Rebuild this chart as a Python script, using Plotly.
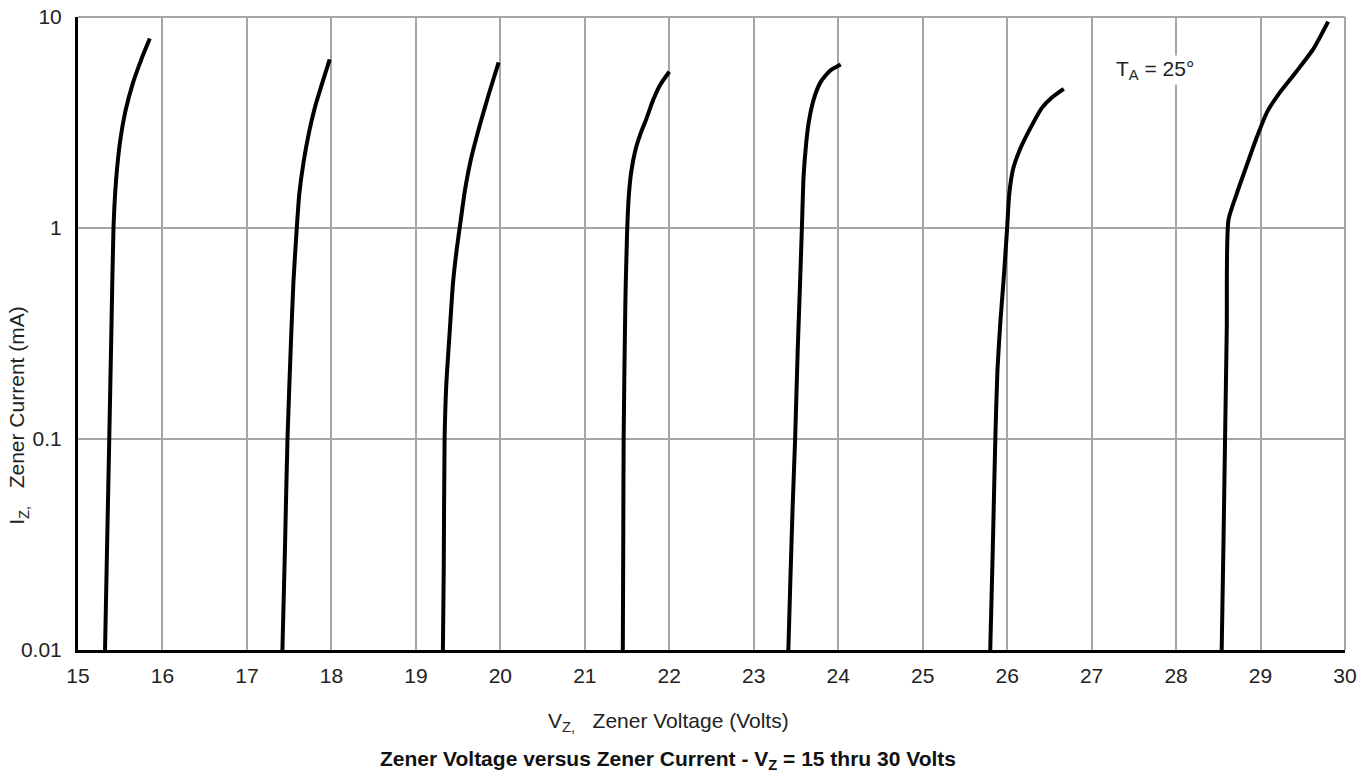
import plotly.graph_objects as go

# Zener curves (voltage in V, current in mA)
vz_15 = [15.32, 15.345, 15.37, 15.395, 15.42, 15.45, 15.50, 15.56, 15.65, 15.75, 15.85]
iz_15 = [0.01, 0.032, 0.1, 0.32, 1.0, 1.67, 2.6, 3.56, 4.86, 6.3, 7.9]

vz_18 = [17.42, 17.45, 17.48, 17.52, 17.55, 17.59, 17.62, 17.67, 17.74, 17.81, 17.88, 17.98]
iz_18 = [0.01, 0.030, 0.1, 0.28, 0.55, 1.0, 1.45, 2.05, 2.9, 3.8, 4.7, 6.3]

vz_20 = [19.32, 19.33, 19.34, 19.36, 19.40, 19.44, 19.485, 19.53, 19.58, 19.65, 19.76, 19.87, 19.98]
iz_20 = [0.01, 0.024, 0.1, 0.18, 0.32, 0.55, 0.8, 1.08, 1.5, 2.1, 3.1, 4.4, 6.1]

vz_22 = [21.45, 21.455, 21.46, 21.48, 21.50, 21.52, 21.55, 21.60, 21.66, 21.73, 21.81, 21.89, 22.00]
iz_22 = [0.01, 0.03, 0.1, 0.44, 0.93, 1.4, 1.85, 2.35, 2.8, 3.3, 4.05, 4.75, 5.5]

vz_24 = [23.41, 23.43, 23.46, 23.49, 23.52, 23.55, 23.57, 23.59, 23.62, 23.65, 23.71, 23.79, 23.90, 24.03]
iz_24 = [0.01, 0.019, 0.047, 0.1, 0.26, 0.57, 1.0, 1.75, 2.5, 3.15, 4.07, 4.9, 5.55, 5.95]

vz_26 = [25.80, 25.83, 25.86, 25.885, 25.92, 25.96, 26.00, 26.025, 26.07, 26.16, 26.28, 26.41, 26.53, 26.67]
iz_26 = [0.01, 0.030, 0.1, 0.21, 0.36, 0.58, 1.0, 1.45, 1.9, 2.4, 3.0, 3.7, 4.15, 4.56]

vz_30 = [28.54, 28.56, 28.58, 28.60, 28.62, 28.72, 28.84, 28.96, 29.08, 29.24, 29.43, 29.63, 29.80]
iz_30 = [0.01, 0.030, 0.1, 0.33, 1.09, 1.46, 2.0, 2.72, 3.56, 4.45, 5.55, 7.1, 9.5]

x_ticks = list(range(15, 31))
y_tickvals = [0.01, 0.1, 1, 10]
y_ticktext = ["0.01", "0.1", "1", "10"]

curves = [(vz_15, iz_15), (vz_18, iz_18), (vz_20, iz_20), (vz_22, iz_22),
          (vz_24, iz_24), (vz_26, iz_26), (vz_30, iz_30)]

FONT = "Liberation Sans, Arial, sans-serif"
GRID = "#aaa3a3"

fig = go.Figure()
for vx, iy in curves:
    fig.add_trace(go.Scatter(x=vx, y=iy, mode="lines",
                             line=dict(color="black", width=4, shape="spline", smoothing=0.6),
                             showlegend=False, hoverinfo="skip"))

fig.update_layout(
    width=1360, height=778,
    margin=dict(l=78, r=15, t=17, b=128),
    paper_bgcolor="white", plot_bgcolor="white",
    font=dict(family=FONT, size=21, color="#222"),
    showlegend=False,
)
fig.update_xaxes(
    range=[15, 30], tickvals=x_ticks, ticktext=[str(v) for v in x_ticks],
    showgrid=True, gridcolor=GRID, gridwidth=1.5,
    showline=True, linecolor="black", linewidth=3,
    ticks="", ticklabelstandoff=5, zeroline=False, automargin=False,
    tickfont=dict(family=FONT, size=21, color="#222"),
)
fig.update_yaxes(
    type="log", range=[-2, 1], tickvals=y_tickvals, ticktext=y_ticktext,
    showgrid=True, gridcolor=GRID, gridwidth=1.5,
    showline=True, linecolor="black", linewidth=3,
    ticks="", ticklabelstandoff=9, zeroline=False, automargin=False,
    tickfont=dict(family=FONT, size=21, color="#222"),
)

# gray top and right border
fig.add_shape(type="line", xref="paper", yref="paper", x0=0, x1=1, y0=1, y1=1,
              line=dict(color=GRID, width=2))
fig.add_shape(type="line", xref="paper", yref="paper", x0=1, x1=1, y0=0, y1=1,
              line=dict(color=GRID, width=2))

fig.add_annotation(x=27.75, y=0.75, xref="x", yref="y",
                   text="T<sub>A</sub> = 25°", showarrow=False,
                   font=dict(family=FONT, size=21, color="#222"),
                   bgcolor="white")

fig.add_annotation(x=0.4657, y=-0.1137, xref="paper", yref="paper",
                   text="V<sub>Z,</sub>&nbsp;&nbsp; Zener Voltage (Volts)", showarrow=False,
                   font=dict(family=FONT, size=21, color="#222"),
                   xanchor="center", yanchor="middle")
fig.add_annotation(x=0.4657, y=-0.1738, xref="paper", yref="paper",
                   text="<b>Zener Voltage versus Zener Current - V<sub>Z</sub> = 15 thru 30 Volts</b>",
                   showarrow=False,
                   font=dict(family=FONT, size=21, color="#111"),
                   xanchor="center", yanchor="middle")
fig.add_annotation(x=-0.0474, y=0.37, xref="paper", yref="paper",
                   text="I<sub>Z,</sub>&nbsp;&nbsp; Zener Current (mA)", showarrow=False,
                   textangle=-90, xanchor="center", yanchor="middle",
                   font=dict(family=FONT, size=21, color="#222"))

fig.write_html("out.html", config={"displayModeBar": False},
               post_script="document.body.style.margin='0';document.body.style.padding='0';")
